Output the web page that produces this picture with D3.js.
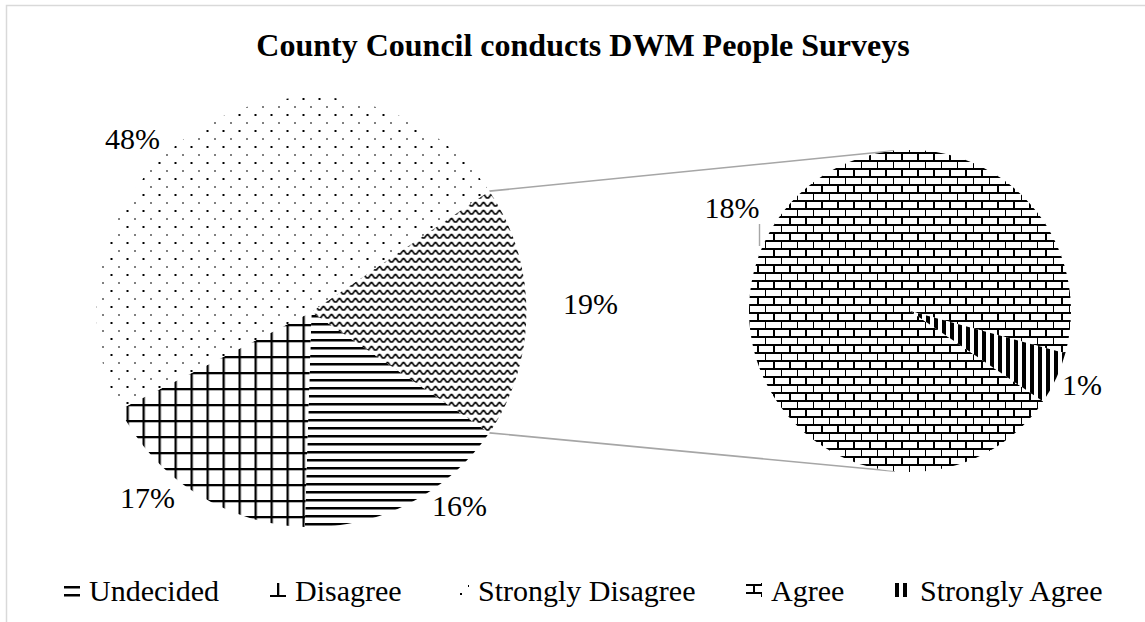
<!DOCTYPE html>
<html>
<head>
<meta charset="utf-8">
<script src="https://cdn.jsdelivr.net/npm/d3@7"></script>
<style>
  html, body { margin: 0; padding: 0; background: #fff; }
  svg { display: block; }
  text { font-family: "Liberation Serif", "Times New Roman", serif; fill: #000; }
</style>
</head>
<body>
<svg id="chart" width="1145" height="622"></svg>
<script>
// Survey responses (percent of respondents)
const categories = ["Undecided", "Disagree", "Strongly Disagree", "Agree", "Strongly Agree"];
const values = [16, 17, 48, 18, 1];
// The last two categories are broken out into the secondary pie
const secondaryCount = 2;
const otherLabel = "Other";
const titleText = "County Council conducts DWM People Surveys";

// Fill style per category
const fillKinds = {
  "Undecided": "hlines",
  "Disagree": "grid",
  "Strongly Disagree": "dots",
  "Agree": "brick",
  "Strongly Agree": "vstripes",
  "Other": "wave"
};

const svg = d3.select("#chart");
const defs = svg.append("defs");

// Pattern tiles, black on white
function makePattern(id, kind, ox = 0, oy = 0) {
  const sizes = { hlines: 8, grid: 16, dots: 16, wave: 8, brick: 16, vstripes: 8 };
  const s = sizes[kind];
  const p = defs.append("pattern")
    .attr("id", id)
    .attr("patternUnits", "userSpaceOnUse")
    .attr("x", ox).attr("y", oy)
    .attr("width", s).attr("height", s);
  p.append("rect").attr("width", s).attr("height", s).attr("fill", "#fff");
  const blk = (x, y, w, h) => p.append("rect").attr("x", x).attr("y", y).attr("width", w).attr("height", h).attr("fill", "#000");
  if (kind === "hlines") {
    blk(0, 3, 8, 2.5);
  } else if (kind === "grid") {
    blk(7, 0, 2.3, 16);
    blk(0, 12, 16, 2.3);
  } else if (kind === "dots") {
    blk(7, 10, 2, 2);
    blk(15, 2, 2, 2);
  } else if (kind === "wave") {
    p.append("path")
      .attr("d", "M-1,6 L1,6 L3.5,2.5 L4.5,2.5 L7,6 L9,6")
      .attr("fill", "none").attr("stroke", "#000").attr("stroke-width", 1.7);
  } else if (kind === "brick") {
    blk(0, 1, 16, 2);
    blk(0, 9, 16, 2);
    blk(7, 1, 2, 8);
    blk(15, 9, 2, 8);
    blk(15, 0, 2, 1);
  } else if (kind === "vstripes") {
    blk(0, 0, 4, 8);
  }
  return `url(#${id})`;
}

// Border of the chart area
svg.append("rect")
  .attr("x", 6.5).attr("y", 5.5)
  .attr("width", 1200).attr("height", 700)
  .attr("fill", "#fff")
  .attr("stroke", "#d9d9d9").attr("stroke-width", 1.5);

// Title
svg.append("text")
  .attr("x", 583).attr("y", 56)
  .attr("text-anchor", "middle")
  .attr("font-weight", "bold")
  .attr("font-size", 32)
  .text(titleText);

// Split the data into the main pie and the secondary pie
const nMain = categories.length - secondaryCount;
const mainData = categories.slice(0, nMain).map((c, i) => ({ cat: c, value: values[i] }));
const secData = categories.slice(nMain).map((c, i) => ({ cat: c, value: values[nMain + i] }));
mainData.push({ cat: otherLabel, value: d3.sum(secData, d => d.value) });

const deg = Math.PI / 180;
const startDeg = 124.2;

const mainPie = d3.pie().sort(null).value(d => d.value)
  .startAngle(startDeg * deg).endAngle((startDeg + 360) * deg);
const secPie = d3.pie().sort(null).value(d => d.value)
  .startAngle(startDeg * deg).endAngle((startDeg + 360) * deg);

const mainC = { x: 311.5, y: 312, r: 215 };
const secC = { x: 910, y: 311, r: 161 };

const mainArcs = mainPie(mainData);
const secArcs = secPie(secData);

// Label placement, offset from each pie's center (text baseline, centred)
const labelOffsets = {
  "Undecided": [148, 204],
  "Disagree": [-164, 196],
  "Strongly Disagree": [-179, -163],
  "Other": [279, 2],
  "Agree": [-178, -93],
  "Strongly Agree": [172, 84]
};

function drawPie(arcs, c, prefix) {
  const g = svg.append("g").attr("transform", `translate(${c.x},${c.y})`);
  const arc = d3.arc().innerRadius(0).outerRadius(c.r);
  g.selectAll("path")
    .data(arcs)
    .join("path")
    .attr("d", arc)
    .attr("fill", d => makePattern(prefix + "-" + d.index, fillKinds[d.data.cat]));
  const total = d3.sum(values);
  g.selectAll("text")
    .data(arcs)
    .join("text")
    .attr("x", d => labelOffsets[d.data.cat][0])
    .attr("y", d => labelOffsets[d.data.cat][1])
    .attr("text-anchor", "middle")
    .attr("font-size", 30)
    .text(d => d3.format(".0%")(d.data.value / total));
  return g;
}

// Connector lines from the "Other" slice to tangents of the secondary pie
const otherArc = mainArcs[mainArcs.length - 1];
function polar(c, a) { return [c.x + c.r * Math.sin(a), c.y - c.r * Math.cos(a)]; }
function tangentPoint(p, c, upper) {
  const dx = p[0] - c.x, dy = p[1] - c.y;
  const d = Math.hypot(dx, dy);
  const base = Math.atan2(dy, dx);
  const off = Math.acos(c.r / d);
  const a = upper ? base + off : base - off;
  return [c.x + c.r * Math.cos(a), c.y + c.r * Math.sin(a)];
}
const pTop = polar(mainC, otherArc.startAngle);
const pBot = polar(mainC, otherArc.endAngle);
const tTop = tangentPoint(pTop, secC, true);
const tBot = tangentPoint(pBot, secC, false);
svg.append("g")
  .selectAll("line")
  .data([[pTop, tTop], [pBot, tBot]])
  .join("line")
  .attr("x1", d => d[0][0]).attr("y1", d => d[0][1])
  .attr("x2", d => d[1][0]).attr("y2", d => d[1][1])
  .attr("stroke", "#a6a6a6").attr("stroke-width", 1.6);

drawPie(mainArcs, mainC, "m");
drawPie(secArcs, secC, "s");

// Leader line for the Agree label
svg.append("line")
  .attr("x1", 759.5).attr("y1", 224)
  .attr("x2", 759.5).attr("y2", 246)
  .attr("stroke", "#a6a6a6").attr("stroke-width", 1.4);

// Legend
const legend = svg.append("g");
const swW = 16, swH = 14, swGap = 25, itemGap = 51, legendBaseline = 601;
const items = legend.selectAll("g.item")
  .data(categories)
  .join("g").attr("class", "item");
items.append("text")
  .attr("font-size", 30)
  .attr("y", legendBaseline)
  .text(d => d);
let x = 0;
const layout = [];
items.each(function (d) {
  const tw = this.querySelector("text").getComputedTextLength();
  layout.push({ cat: d, sx: x, tw });
  x += swGap + tw + itemGap;
});
const totalW = x - itemGap;
const x0 = 583.5 - totalW / 2;
items.each(function (d, i) {
  const L = layout[i];
  const sx = Math.round(x0 + L.sx);
  const sy = 583;
  const sel = d3.select(this);
  sel.select("text").attr("x", sx + swGap);
  sel.insert("rect", "text")
    .attr("x", sx).attr("y", sy)
    .attr("width", swW).attr("height", swH)
    .attr("fill", makePattern("lg-" + i, fillKinds[d], sx, sy));
});
</script>
</body>
</html>
